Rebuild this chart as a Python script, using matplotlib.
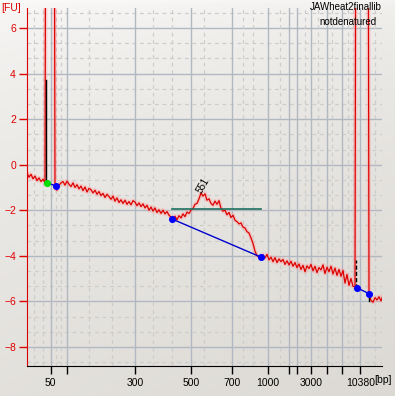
import numpy as np
import matplotlib
matplotlib.use("Agg")
import matplotlib.pyplot as plt

plt.rcParams['font.family'] = ['Liberation Sans', 'DejaVu Sans']

# electropherogram trace, fluorescence [FU] sampled every 2 units of migration position
fu = [-0.35, -0.55, -0.42, -0.62, -0.5, -0.7, -0.58, -0.74, -0.64, -0.8,
      40, 40, 40, 40,
      -1.02, -1.12, -0.9, -0.8, -0.74, -0.9, -0.72, -0.86, -0.96, -0.8,
      -1.0, -0.88, -1.06, -0.94, -1.14, -0.98, -1.2, -1.04, -1.1, -1.24,
      -1.12, -1.3, -1.18, -1.36, -1.26, -1.44, -1.3, -1.4, -1.52, -1.38,
      -1.6, -1.46, -1.66, -1.54, -1.7, -1.56, -1.74, -1.62, -1.76, -1.58,
      -1.64, -1.8, -1.68, -1.84, -1.72, -1.9, -1.78, -2.0, -1.86, -2.04,
      -1.9, -2.1, -1.98, -2.14, -2.0, -2.16, -2.06, -2.22, -2.3, -2.4,
      -2.26, -2.42, -2.24, -2.34, -2.16, -2.28, -2.08, -2.14, -2.0, -1.92,
      -1.74, -1.7, -1.5, -1.24, -1.38, -1.28, -1.56, -1.5, -1.7, -1.78,
      -1.6, -1.74, -1.58, -1.92, -2.04, -2.0, -2.2, -2.1, -2.32, -2.22,
      -2.44, -2.5, -2.6, -2.56, -2.74, -2.78, -2.94, -3.0, -3.22, -3.46,
      -3.8, -4.0, -4.04, -4.06, -3.96, -4.1, -3.94, -4.18, -4.06, -4.26,
      -4.08, -4.3, -4.14, -4.26, -4.16, -4.38, -4.22, -4.4, -4.24, -4.46,
      -4.3, -4.52, -4.36, -4.6, -4.42, -4.7, -4.44, -4.56, -4.38, -4.66,
      -4.46, -4.74, -4.52, -4.62, -4.4, -4.78, -4.5, -4.7, -4.46, -4.8,
      -4.54, -4.86, -4.6, -4.9, -4.64, -5.2, -4.82, -5.3, -5.0, -5.34,
      -5.35,
      40, 40, 40, 40, 40, 40,
      -5.67, -5.96, -6.04, -5.84, -5.94, -5.8, -5.98, -5.74]
pos = 27 + 2 * np.arange(len(fu))

# size ladder on the migration axis
tick_pos = [50.7, 67.3, 135.3, 191.3, 232.3, 267.7, 288.7, 297, 311.3, 326.7, 341.7, 360.3]
tick_lab = ['50', '', '300', '500', '700', '1000', '', '', '3000', '', '', '10380']
minor_pos = [34, 42.7, 55.7, 60.7, 89.3, 111.7, 153.3, 171.7, 204, 243.3, 253.3,
             280, 305, 318.3, 331.7, 348.3, 352.7, 375]

# peak boundaries
start_x, start_y = [47], [-0.8]
blue_x = [56, 172.3, 261, 356.7, 369.3]
blue_y = [-0.93, -2.39, -4.06, -5.4, -5.67]
smear_x = [171.7, 260.7]
smear_y = -1.95
peak_x, peak_y, peak_lab = 203, -0.9, '551'

W, H = 395, 396
fig = plt.figure(figsize=(W / 100, H / 100), dpi=100)

# background gradient
bg = fig.add_axes([0, 0, 1, 1])
yy, xx = np.mgrid[0:1:200j, 0:1:200j]
g = np.clip(0.7 * np.sqrt(yy) + 0.2 * xx, 0, 1)
c0 = np.array([0.985, 0.982, 0.978])
c1 = np.array([0.85, 0.838, 0.815])
img = c0[None, None, :] * (1 - g[..., None]) + c1[None, None, :] * g[..., None]
bg.imshow(img, aspect='auto', extent=[0, 1, 0, 1])
bg.axis('off')

ax = fig.add_axes([27 / W, (H - 366) / H, (382 - 27) / W, (366 - 8) / H])
ax.patch.set_alpha(0)
ax.set_xlim(27, 382)
ax.set_ylim(-8.84, 6.88)

# grid
for v in np.arange(-8.67, 6.9, 2 / 3):
    if abs(v - round(v)) < 0.05 and round(v) % 2 == 0:
        ax.axhline(round(v), color='#b2b8c2', lw=1, zorder=1)
    else:
        ax.axhline(v, color='#cdcdcb', lw=0.9, ls=(0, (3, 3)), zorder=1)
for p in tick_pos:
    ax.axvline(p, color='#b2b8c2', lw=1, zorder=1)
for p in minor_pos:
    ax.axvline(p, color='#cdcdcb', lw=0.9, ls=(0, (3, 3)), zorder=1)

# trace with glow
ax.plot(pos, fu, color='#ff9a9a', lw=3.0, alpha=0.4, zorder=2, solid_joinstyle='round')
ax.plot(pos, fu, color='#dd0000', lw=0.9, zorder=3)

# peak boundary lines
ax.plot([46, 46], [-0.8, 3.7], color='black', lw=1, zorder=3)
ax.plot([356.3, 356.3], [-5.4, -4.2], color='black', lw=1, ls=(0, (3, 1.5)), zorder=3)
ax.plot([369, 369], [-5.67, -6.0], color='black', lw=1, zorder=3)

ax.plot([start_x[0], blue_x[0]], [start_y[0], blue_y[0]], color='#0000cc', lw=1, zorder=4)
ax.plot(blue_x[1:3], blue_y[1:3], color='#0000cc', lw=1, zorder=4)
ax.plot(blue_x[3:5], blue_y[3:5], color='#0000cc', lw=1, zorder=4)
ax.plot(smear_x, [smear_y, smear_y], color='#1e7060', lw=1.2, zorder=4)
ax.scatter(start_x, start_y, s=26, color='#00dd00', zorder=5, linewidths=0)
ax.scatter(blue_x, blue_y, s=26, color='#0000ff', zorder=5, linewidths=0)

ax.text(peak_x, peak_y, peak_lab, rotation=60, fontsize=7, ha='center', va='center', zorder=5)

# axes styling
for s in ['top', 'right']:
    ax.spines[s].set_visible(False)
ax.spines['left'].set_color('#dd0000')
ax.spines['bottom'].set_color('black')
ax.set_yticks([-8, -6, -4, -2, 0, 2, 4, 6])
ax.tick_params(axis='y', colors='#dd0000', length=6, width=1, labelsize=7.5, pad=2)
ax.set_xticks(tick_pos)
ax.set_xticklabels(tick_lab)
ax.tick_params(axis='x', colors='black', length=6, width=1, labelsize=7.5, pad=3)

fig.text(1 / W, 1 - 11 / H, '[FU]', color='#dd0000', fontsize=7.5, ha='left', va='baseline')
fig.text(374 / W, 1 - 383 / H, '[bp]', color='black', fontsize=7.5, ha='left', va='baseline')
fig.text(382 / W, 1 - 10 / H, 'JAWheat2finallib', fontsize=7, ha='right', va='baseline')
fig.text(377 / W, 1 - 25 / H, 'notdenatured', fontsize=7, ha='right', va='baseline')

fig.savefig('out.png', dpi=100)
